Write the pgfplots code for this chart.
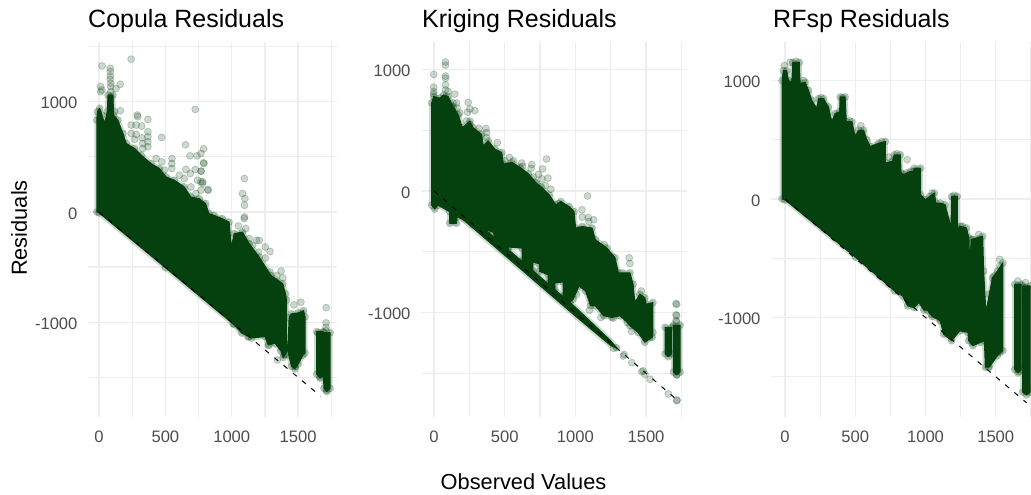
\documentclass[border=0pt]{standalone}
\usepackage{pgfplots}
\usepackage{pgfplotstable}
\usepackage{fontspec}
\setmainfont{Liberation Sans}
\pgfplotsset{compat=1.18}
\definecolor{pgreen}{HTML}{05410F}
\definecolor{gridc}{HTML}{EEEEEE}
\definecolor{tickc}{HTML}{4D4D4D}

% ---------- Copula
\pgfplotstableread{
x y
-17 0
-17 833
-12 909
5 939
22 879
42 803
62 909
68 1060
105 1060
110 879
142 833
180 712
205 621
268 576
318 515
392 439
455 394
505 318
568 288
642 227
692 136
755 121
803 76
828 -15
866 -30
929 -61
980 -91
997 -318
1018 -197
1081 -182
1132 -288
1207 -409
1296 -576
1385 -651
1405 -742
1414 -800
1414 -1200
1424 -1225
1432 -960
1448 -924
1500 -915
1541 -894
1552 -950
1552 -1280
1536 -1300
1500 -1380
1477 -1423
1450 -1400
1430 -1300
1420 -1240
1405 -1290
1388 -1320
1370 -1260
1326 -1190
1275 -1206
1251 -1130
1150 -1143
1075 -1098
1010 -1015
500 -505
0 -8
}\copBody
\pgfplotstableread{
x y
1640 -1085
1690 -1085
1690 -1094
1741 -1094
1741 -1600
1716 -1629
1695 -1600
1690 -1480
1665 -1507
1640 -1470
}\copCols
\pgfplotstableread{
x y
22 1324
242 1385
85 1303
85 1273
85 1233
85 1203
88 1167
88 1136
160 1157
128 1118
12 1136
12 1091
22 1106
88 1091
88 1045
88 1015
160 918
118 909
288 879
292 864
368 839
242 788
280 788
322 779
368 727
242 712
280 703
325 673
368 682
472 676
268 658
330 621
368 636
368 591
330 576
725 930
652 609
788 573
768 530
738 509
685 509
788 445
550 485
548 439
430 485
472 454
548 394
492 379
655 385
725 385
768 370
688 348
605 333
642 303
768 273
780 258
742 288
822 197
768 197
692 227
730 167
790 439
770 370
782 273
820 203
1096 303
1081 167
1099 121
1096 61
1096 -45
1094 -60
1050 -127
1106 -151
1207 -258
1187 -258
1132 -242
1157 -303
1253 -318
1288 -358
1253 -418
1202 -364
1288 -545
1372 -536
1339 -576
1385 -597
1339 -636
1468 -842
1521 -818
1711 -867
1711 -1006
1711 -1045
1711 -1076
1650 -1100
1017 -1016
1124 -1135
1130 -1130
1280 -1210
1344 -1342
1394 -1297
1477 -1402
1665 -1493
1716 -1614
}\copPts

% ---------- Kriging
\pgfplotstableread{
x y
-17 -117
-17 724
-2 778
40 764
69 791
100 778
135 696
171 629
201 520
254 575
277 520
337 466
348 371
384 412
431 344
479 317
491 222
550 236
609 195
668 141
728 60
758 35
816 -33
862 -114
897 -87
956 -128
991 -169
1002 -305
1049 -292
1119 -305
1142 -401
1223 -469
1281 -550
1305 -673
1386 -673
1409 -768
1421 -918
1456 -850
1491 -877
1502 -932
1549 -918
1549 -1164
1544 -1204
1491 -1245
1444 -1164
1386 -1109
1368 -1082
1316 -1027
1258 -1041
1200 -1027
1142 -945
1107 -945
1072 -823
1026 -782
985 -890
962 -918
913 -869
913 -749
856 -757
856 -812
807 -763
807 -690
745 -660
745 -600
700 -584
700 -656
623 -579
623 -470
524 -461
524 -480
432 -388
420 -340
375 -321
375 -331
300 -258
277 -279
164 -211
159 -266
111 -266
111 -171
28 -117
5 -149
}\kriBody
\pgfplotstableread{
x y
200 -156
1000 -956
1250 -1232
1295 -1295
1250 -1272
1000 -1029
200 -229
}\kriBand
\pgfplotstableread{
x y
1635 -1122
1682 -1122
1682 -1340
1658 -1364
1635 -1340
}\kriColA
\pgfplotstableread{
x y
1694 -1103
1741 -1103
1741 -1490
1717 -1514
1694 -1490
}\kriColB
\pgfplotstableread{
x y
81 1062
81 1035
-2 959
81 946
81 927
81 873
81 832
-2 854
-2 818
-2 799
147 797
100 818
242 729
254 675
289 661
237 648
159 724
135 724
123 696
164 683
182 642
230 575
254 547
318 515
367 515
372 480
372 439
448 398
533 276
502 249
562 249
621 230
626 203
692 217
687 187
796 263
768 182
739 136
806 106
763 100
704 114
716 73
787 46
827 14
882 -103
1086 -41
1047 -155
1049 -215
1091 -218
1130 -237
1095 -251
1205 -441
1251 -537
1381 -550
1386 -597
1333 -673
1467 -823
1712 -927
1712 -1019
1712 -1068
1009 -850
1100 -981
1181 -1041
1270 -1046
1398 -1155
1526 -1204
1717 -933
1717 -1026
1717 -1075
1717 -1514
1269 -1295
1290 -1290
1340 -1358
1345 -1345
1399 -1413
1470 -1487
1493 -1510
1480 -1480
1529 -1550
1658 -1670
1717 -1726
1720 -1720
}\kriPts

% ---------- RFsp
\pgfplotstableread{
x y
-21 0
-21 1000
-12 1084
12 1084
24 1000
48 986
55 1153
102 1153
107 972
143 986
167 917
190 833
226 763
238 847
274 847
309 777
333 652
357 722
388 736
393 861
428 861
436 652
476 652
500 527
524 582
559 582
583 499
607 443
666 471
714 485
714 304
762 318
778 373
821 373
826 220
845 206
893 234
914 232
919 260
965 260
965 36
1000 -6
1030 22
1063 50
1074 -34
1105 -34
1140 -48
1170 -188
1181 -258
1186 22
1226 22
1228 -244
1249 -230
1291 -244
1309 -328
1314 -524
1326 -342
1407 -314
1414 -608
1430 -958
1454 -804
1477 -664
1512 -608
1551 -538
1551 -1280
1512 -1322
1454 -1420
1426 -1420
1419 -1196
1337 -1238
1307 -1196
1302 -1126
1244 -1112
1186 -1196
1128 -1140
1105 -1028
1047 -991
1012 -938
988 -938
953 -874
919 -916
872 -902
837 -818
779 -776
500 -490
0 -8
}\rfBody
\pgfplotstableread{
x y
1635 -720
1681 -720
1681 -1440
1658 -1468
1635 -1440
}\rfColA
\pgfplotstableread{
x y
1691 -734
1745 -734
1745 -1630
1720 -1654
1691 -1630
}\rfColB
\pgfplotstableread{
x y
-5 1126
36 1153
79 1162
79 1134
131 1000
257 855
409 855
409 827
459 660
540 618
690 485
738 354
797 382
797 345
869 332
864 220
869 178
1047 50
1205 31
1205 3
1263 -230
1337 -342
1379 -300
1379 -342
1379 -385
1337 -398
1528 -510
1528 -566
1488 -650
1488 -692
1040 -972
1105 -1014
1158 -1140
1272 -1098
1337 -1210
1395 -1210
1528 -1294
1447 -1420
1658 -692
1658 -734
1658 -776
1658 -818
1712 -706
1712 -748
1712 -790
1665 -1457
1720 -1626
}\rfPts

\pgfplotstableread{
x y
0 0
1670 -1670
}\copLine
\pgfplotstableread{
x y
0 0
1720 -1720
}\allLine

\pgfplotsset{
  panel/.style={
    scale only axis,
    axis line style={draw=none},
    tick style={draw=none},
    grid=both,
    grid style={draw=gridc,line width=1.3pt},
    minor grid style={draw=gridc,line width=1.3pt},
    xtick={0,500,1000,1500},
    xticklabels={0,500,1000,1500},
    minor xtick={250,750,1250,1750},
    ytick={-1000,0,1000},
    yticklabels={-1000,0,1000},
    tick label style={font=\fontsize{16.6}{20}\selectfont,text=tickc},
    xticklabel style={yshift=-10pt},
    yticklabel style={xshift=-7pt,yshift=-1.5pt},
    title style={at={(0,1)},anchor=south west,inner xsep=0pt,inner ysep=3pt,
      font=\fontsize{25}{30}\selectfont},
  },
  bodyhalo/.style={draw=pgreen,line width=5pt,opacity=.2,line join=round},
  bodyfill/.style={draw=pgreen,fill=pgreen,line width=1pt,line join=round},
  pts/.style={only marks,mark=*,mark size=3.5pt,
    mark options={draw=pgreen,fill=pgreen,fill opacity=.2,draw opacity=.22,line width=.8pt}},
  refl/.style={black,line width=1pt,dash pattern=on 5pt off 7pt},
}

\begin{document}
\begin{tikzpicture}[x=1pt,y=1pt]
\useasboundingbox (0,0) rectangle (1031,-495);

\begin{axis}[panel,at={(88pt,-417pt)},anchor=south west,width=249pt,height=375pt,
  xmin=-83,xmax=1793,ymin=-1859,ymax=1541,
  minor ytick={-1500,-500,500,1500},
  title={Copula Residuals}]
\addplot[bodyhalo] table {\copBody} -- cycle;
\addplot[bodyhalo] table {\copCols} -- cycle;
\addplot[bodyfill] table {\copBody} -- cycle;
\addplot[bodyfill] table {\copCols} -- cycle;
\addplot[pts] table {\copBody};
\addplot[pts] table {\copCols};
\addplot[pts] table {\copPts};
\addplot[refl] table {\copLine};
\end{axis}

\begin{axis}[panel,at={(421pt,-417pt)},anchor=south west,width=266pt,height=375pt,
  xmin=-92,xmax=1790,ymin=-1860,ymax=1226,
  minor ytick={-1500,-500,500},
  title style={xshift=1pt},
  title={Kriging Residuals}]
\addplot[bodyhalo] table {\kriBody} -- cycle;
\addplot[bodyhalo] table {\kriBand} -- cycle;
\addplot[bodyhalo] table {\kriColA} -- cycle;
\addplot[bodyhalo] table {\kriColB} -- cycle;
\addplot[bodyfill] table {\kriBody} -- cycle;
\addplot[bodyfill] table {\kriBand} -- cycle;
\addplot[bodyfill] table {\kriColA} -- cycle;
\addplot[bodyfill] table {\kriColB} -- cycle;
\addplot[pts] table {\kriBody};
\addplot[pts] table {\kriColA};
\addplot[pts] table {\kriColB};
\addplot[pts] table {\kriPts};
\addplot[refl] table {\allLine};
\end{axis}

\begin{axis}[panel,at={(771pt,-417pt)},anchor=south west,width=260pt,height=375pt,
  xmin=-100,xmax=1751,ymin=-1840,ymax=1325,
  minor ytick={-1500,-500,500},
  title style={xshift=2pt},
  title={RFsp Residuals}]
\addplot[bodyhalo] table {\rfBody} -- cycle;
\addplot[bodyhalo] table {\rfColA} -- cycle;
\addplot[bodyhalo] table {\rfColB} -- cycle;
\addplot[bodyfill] table {\rfBody} -- cycle;
\addplot[bodyfill] table {\rfColA} -- cycle;
\addplot[bodyfill] table {\rfColB} -- cycle;
\addplot[pts] table {\rfBody};
\addplot[pts] table {\rfColA};
\addplot[pts] table {\rfColB};
\addplot[pts] table {\rfPts};
\addplot[refl] table {\allLine};
\end{axis}

\node[rotate=90,font=\fontsize{21.8}{26}\selectfont] at (19,-228) {Residuals};
\node[font=\fontsize{21.8}{26}\selectfont] at (523.5,-482) {Observed Values};
\end{tikzpicture}
\end{document}
